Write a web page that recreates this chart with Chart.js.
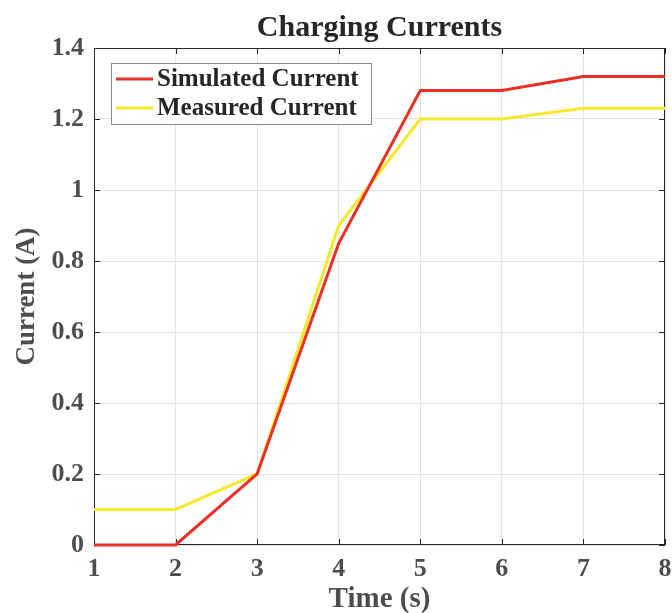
<!DOCTYPE html>
<html>
<head>
<meta charset="utf-8">
<script src="https://cdn.jsdelivr.net/npm/chart.js@4"></script>
<style>
  html, body { margin: 0; padding: 0; background: #fff; }
  #currentChart { display: block; }
</style>
</head>
<body>
<canvas id="currentChart" width="672" height="613"></canvas>
<script>
// Charging current samples, one per second
const timeSteps = [1, 2, 3, 4, 5, 6, 7, 8];
const simulatedCurrent = [0, 0, 0.2, 0.85, 1.28, 1.28, 1.32, 1.32];
const measuredCurrent = [0.1, 0.1, 0.2, 0.9, 1.2, 1.2, 1.23, 1.23];
const seriesNames = ['Simulated Current', 'Measured Current'];
const chartTitle = 'Charging Currents';

const serif = "'Liberation Serif', 'DejaVu Serif', serif";
const axisColor = '#262626';
const labelColor = '#4d4d4d';

function toPoints(values) {
    return timeSteps.map((t, i) => ({ x: t, y: values[i] }));
}

// Title centred over the plot area rather than the whole canvas
const plotTitle = {
    id: 'plotTitle',
    afterDraw(chart) {
        const { ctx, chartArea: a } = chart;
        ctx.save();
        ctx.font = 'bold 30px ' + serif;
        ctx.fillStyle = axisColor;
        ctx.textAlign = 'center';
        ctx.textBaseline = 'alphabetic';
        ctx.fillText(chartTitle, (a.left + a.right) / 2, a.top - 12);
        ctx.restore();
    }
};

// Box round the plot with small inward ticks on every side
const axesBox = {
    id: 'axesBox',
    beforeDatasetsDraw(chart) {
        const { ctx, chartArea: a, scales } = chart;
        ctx.save();
        ctx.strokeStyle = axisColor;
        ctx.lineWidth = 1;
        ctx.strokeRect(Math.round(a.left) + 0.5, Math.round(a.top) + 0.5,
            Math.round(a.right - a.left) - 1, Math.round(a.bottom - a.top) - 1);
        const len = 6;
        ctx.beginPath();
        scales.x.ticks.forEach(t => {
            const px = Math.round(scales.x.getPixelForValue(t.value)) + 0.5;
            ctx.moveTo(px, a.bottom); ctx.lineTo(px, a.bottom - len);
            ctx.moveTo(px, a.top); ctx.lineTo(px, a.top + len);
        });
        scales.y.ticks.forEach(t => {
            const py = Math.round(scales.y.getPixelForValue(t.value)) + 0.5;
            ctx.moveTo(a.left, py); ctx.lineTo(a.left + len, py);
            ctx.moveTo(a.right, py); ctx.lineTo(a.right - len, py);
        });
        ctx.stroke();
        ctx.restore();
    }
};

// Legend drawn inside the top-left corner of the plot
const insideLegend = {
    id: 'insideLegend',
    afterDatasetsDraw(chart) {
        const { ctx, chartArea: a } = chart;
        const x = a.left + 17, y = a.top + 15, w = 260, h = 61;
        ctx.save();
        ctx.fillStyle = '#fff';
        ctx.fillRect(x, y, w, h);
        ctx.strokeStyle = '#8c8c8c';
        ctx.lineWidth = 1;
        ctx.strokeRect(x + 0.5, y + 0.5, w, h);
        ctx.font = 'bold 25px ' + serif;
        ctx.textBaseline = 'middle';
        chart.data.datasets.forEach((ds, i) => {
            const cy = y + 16 + i * 29;
            ctx.strokeStyle = ds.borderColor;
            ctx.lineWidth = 3;
            ctx.beginPath();
            ctx.moveTo(x + 5, cy);
            ctx.lineTo(x + 42, cy);
            ctx.stroke();
            ctx.fillStyle = axisColor;
            ctx.fillText(ds.label, x + 46, cy + 1);
        });
        ctx.restore();
    }
};

const ctx = document.getElementById('currentChart').getContext('2d');
const chart = new Chart(ctx, {
    type: 'line',
    data: {
        datasets: [{
            label: seriesNames[0],
            data: toPoints(simulatedCurrent),
            borderColor: '#ee2d24',
            borderWidth: 3,
            pointRadius: 0,
            tension: 0,
            clip: false
        }, {
            label: seriesNames[1],
            data: toPoints(measuredCurrent),
            borderColor: '#f7e92a',
            borderWidth: 3,
            pointRadius: 0,
            tension: 0,
            clip: false
        }]
    },
    options: {
        responsive: false,
        animation: false,
        layout: { padding: { left: 0, right: 0, top: 48, bottom: 0 } },
        plugins: {
            legend: { display: false },
            tooltip: { enabled: false }
        },
        scales: {
            x: {
                type: 'linear',
                min: 1,
                max: 8,
                afterFit: s => {
                    s.height = 68;
                    s.paddingLeft = 0;
                    s.paddingRight = 7;
                },
                ticks: {
                    stepSize: 1,
                    color: labelColor,
                    padding: 9,
                    maxRotation: 0,
                    font: { family: serif, size: 26, weight: 'bold' }
                },
                grid: { color: '#e3e3e3', drawTicks: false },
                border: { display: false },
                title: {
                    display: true,
                    text: 'Time (s)',
                    color: labelColor,
                    padding: { top: 0, bottom: 0 },
                    font: { family: serif, size: 29, weight: 'bold', lineHeight: 0.9 }
                }
            },
            y: {
                min: 0,
                max: 1.4,
                afterFit: s => { s.width = 94; },
                ticks: {
                    stepSize: 0.2,
                    color: labelColor,
                    padding: 10,
                    font: { family: serif, size: 26, weight: 'bold' },
                    callback: v => String(+v.toFixed(1))
                },
                grid: { color: '#e3e3e3', drawTicks: false },
                border: { display: false },
                title: {
                    display: true,
                    text: 'Current (A)',
                    color: labelColor,
                    padding: { top: 14, bottom: 0 },
                    font: { family: serif, size: 27, weight: 'bold', lineHeight: 1 }
                }
            }
        }
    },
    plugins: [axesBox, insideLegend, plotTitle]
});
</script>
</body>
</html>
